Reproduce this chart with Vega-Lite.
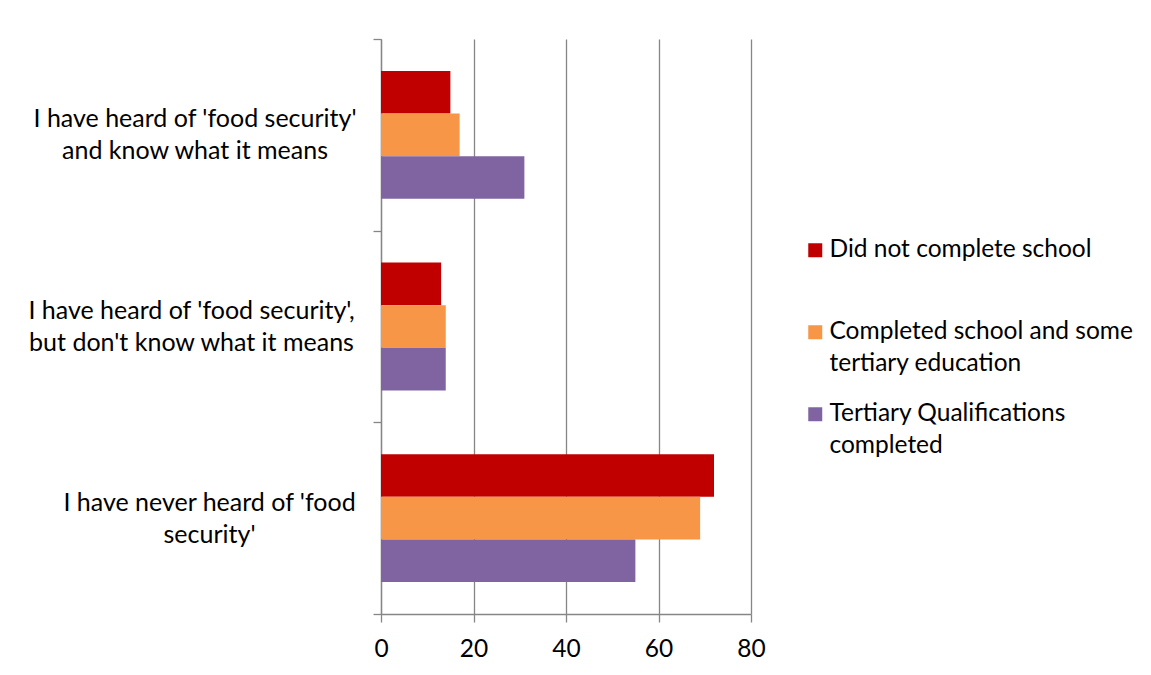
{
  "$schema": "https://vega.github.io/schema/vega-lite/v6.json",
  "autosize": "none",
  "width": 370,
  "height": 575,
  "padding": {"left": 381, "top": 39, "right": 400, "bottom": 61},
  "background": "white",
  "data": {
    "values": [
      {"answer": "I have heard of 'food security'\nand know what it means", "education": "Did not complete school", "count": 15},
      {"answer": "I have heard of 'food security'\nand know what it means", "education": "Completed school and some tertiary education", "count": 17},
      {"answer": "I have heard of 'food security'\nand know what it means", "education": "Tertiary Qualifications completed", "count": 31},
      {"answer": "I have heard of 'food security',\nbut don't know what it means", "education": "Did not complete school", "count": 13},
      {"answer": "I have heard of 'food security',\nbut don't know what it means", "education": "Completed school and some tertiary education", "count": 14},
      {"answer": "I have heard of 'food security',\nbut don't know what it means", "education": "Tertiary Qualifications completed", "count": 14},
      {"answer": "I have never heard of 'food\nsecurity'", "education": "Did not complete school", "count": 72},
      {"answer": "I have never heard of 'food\nsecurity'", "education": "Completed school and some tertiary education", "count": 69},
      {"answer": "I have never heard of 'food\nsecurity'", "education": "Tertiary Qualifications completed", "count": 55}
    ]
  },
  "mark": {"type": "bar"},
  "encoding": {
    "y": {
      "field": "answer",
      "type": "nominal",
      "sort": null,
      "scale": {"paddingInner": 0, "paddingOuter": 0},
      "axis": {
        "title": null,
        "domain": true,
        "domainColor": "#868686",
        "domainWidth": 1.3,
        "ticks": true,
        "tickBand": "extent",
        "tickSize": 8,
        "tickColor": "#868686",
        "tickWidth": 1.3,
        "labelExpr": "isValid(datum.value) ? split(datum.value, '\\n') : ''",
        "labelAlign": "center",
        "labelBaseline": "middle",
        "labelLineHeight": 32,
        "labelOffset": -16,
        "labelFont": "Lato",
        "labelFontSize": 25,
        "labelColor": "#000000",
        "labelLimit": 0,
        "labelPadding": {
          "condition": [
            {"test": "datum.value == \"I have never heard of 'food\\nsecurity'\"", "value": 164},
            {"test": "datum.value == \"I have heard of 'food security',\\nbut don't know what it means\"", "value": 182}
          ],
          "value": 178.5
        }
      }
    },
    "yOffset": {
      "field": "education",
      "type": "nominal",
      "sort": ["Did not complete school", "Completed school and some tertiary education", "Tertiary Qualifications completed"],
      "scale": {"paddingInner": 0, "paddingOuter": 0.75}
    },
    "x": {
      "field": "count",
      "type": "quantitative",
      "scale": {"domain": [0, 80], "nice": false},
      "axis": {
        "title": null,
        "values": [0, 20, 40, 60, 80],
        "grid": true,
        "gridColor": "#868686",
        "gridWidth": 1.3,
        "domain": true,
        "domainColor": "#868686",
        "domainWidth": 1.3,
        "tickSize": 8,
        "tickColor": "#868686",
        "tickWidth": 1.3,
        "labelFont": "Lato",
        "labelFontSize": 24.5,
        "labelColor": "#000000",
        "labelPadding": 15,
        "labelFlush": false
      }
    },
    "color": {
      "field": "education",
      "type": "nominal",
      "scale": {
        "domain": ["Did not complete school", "Completed school and some tertiary education", "Tertiary Qualifications completed"],
        "range": ["#C00000", "#F79646", "#8064A2"]
      },
      "legend": {
        "title": null,
        "orient": "none",
        "legendX": 422,
        "legendY": 199,
        "padding": 0,
        "direction": "vertical",
        "columns": 1,
        "gridAlign": "all",
        "rowPadding": 25,
        "symbolType": "square",
        "symbolSize": 196,
        "symbolStrokeWidth": 0,
        "symbolOpacity": 1,
        "labelOffset": 2,
        "labelFont": "Lato",
        "labelFontSize": 24.5,
        "labelColor": "#000000",
        "labelLimit": 0,
        "labelExpr": "datum.label == 'Completed school and some tertiary education' ? ['Completed school and some', 'tertiary education'] : datum.label == 'Tertiary Qualifications completed' ? ['Tertiary Qualifications', 'completed'] : datum.label"
      }
    }
  },
  "config": {
    "view": {"stroke": null},
    "style": {"guide-label": {"lineHeight": 32}}
  }
}
